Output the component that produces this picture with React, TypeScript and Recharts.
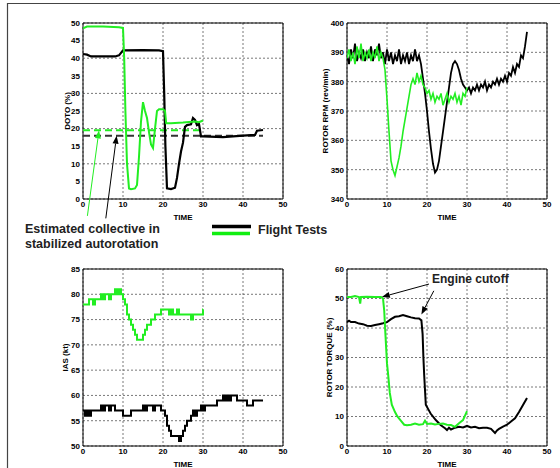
import React from "react"
import {
  LineChart,
  Line,
  XAxis,
  YAxis,
  CartesianGrid,
  ReferenceArea,
  ReferenceLine
} from "recharts"

// Axis ticks
const timeTicks = [0, 10, 20, 30, 40, 50]
const dotoTicks = [0, 5, 10, 15, 20, 25, 30, 35, 40, 45, 50]
const rpmTicks = [340, 350, 360, 370, 380, 390, 400]
const iasTicks = [50, 55, 60, 65, 70, 75, 80, 85]
const torqueTicks = [0, 10, 20, 30, 40, 50, 60]

// DOTO (%) — [time, value]
const dotoGreen = [
  [0, 48.5], [1, 49], [5, 49], [9, 48.8], [10, 48.6], [10.3, 40], [10.6, 25], [11, 10],
  [11.5, 3], [12, 2.8], [13, 3], [13.5, 4], [14, 12], [14.5, 22], [15, 27.5], [15.5, 25],
  [16, 23], [16.5, 19], [17, 15.5], [17.5, 14.5], [18, 20], [18.5, 25], [19, 25.5], [20, 25.5],
  [20.5, 25], [20.8, 21.5], [22, 21.5], [25, 21.7], [28, 22], [29, 21.8], [30, 22.3]
]
const dotoBlack = [
  [0, 41.2], [1, 41], [2, 40.5], [8, 40.5], [9, 40.8], [9.5, 41.5], [10, 42.2], [15, 42.3],
  [19, 42.2], [20, 42], [20.3, 30], [20.6, 15], [21, 3], [22, 2.8], [23, 3.2], [23.5, 6],
  [24, 10], [24.5, 13.5], [25, 16], [25.5, 20.5], [26, 21], [27, 21.2], [27.5, 23], [28, 22.5],
  [28.5, 21], [29, 21.3], [29.5, 17.8], [30, 17.8], [35, 17.6], [40, 18], [43, 18.2],
  [43.5, 19.4], [45, 19.6]
]
const collectiveGreen = [[0, 19.5], [30, 19.5]]
const collectiveBlack = [[0, 18], [45, 18]]

// ROTOR RPM — [time, value]
const rpmGreen = [
  [0, 388], [0.5, 391], [1, 387], [1.5, 390], [2, 386], [2.5, 392], [3, 388], [3.5, 393],
  [4, 387], [4.5, 390], [5, 388], [5.5, 391], [6, 387], [6.5, 390], [7, 388], [7.5, 392],
  [8, 387], [8.5, 390], [9, 388], [9.5, 384], [10, 374], [10.5, 363], [11, 353], [11.5, 350],
  [12, 348], [12.5, 351], [13, 354], [13.5, 358], [14, 363], [14.5, 367], [15, 371], [15.5, 375],
  [16, 379], [16.5, 381], [17, 379], [17.5, 383], [18, 380], [18.5, 382], [19, 379], [19.5, 378],
  [20, 376], [20.5, 377], [21, 374], [21.5, 376], [22, 373], [22.5, 375], [23, 374], [23.5, 376],
  [24, 372], [24.5, 374], [25, 376], [25.5, 373], [26, 375], [26.5, 374], [27, 376], [27.5, 373],
  [28, 375], [28.5, 372], [29, 376], [29.5, 375], [30, 378]
]
const rpmBlack = [
  [0, 389], [0.5, 386], [1, 391], [1.5, 388], [2, 393], [2.5, 387], [3, 390], [3.5, 388],
  [4, 391], [4.5, 387], [5, 390], [5.5, 388], [6, 392], [6.5, 387], [7, 391], [7.5, 389],
  [8, 393], [8.5, 388], [9, 390], [9.5, 386], [10, 391], [10.5, 387], [11, 390], [11.5, 386],
  [12, 389], [12.5, 387], [13, 391], [13.5, 386], [14, 389], [14.5, 387], [15, 390], [15.5, 386],
  [16, 389], [16.5, 387], [17, 391], [17.5, 387], [18, 389], [18.5, 386], [19, 381], [19.5, 376],
  [20, 370], [20.5, 363], [21, 357], [21.5, 352], [22, 349], [22.5, 350], [23, 353], [23.5, 358],
  [24, 363], [24.5, 368], [25, 373], [25.5, 378], [26, 383], [26.5, 386], [27, 387], [27.5, 386],
  [28, 384], [28.5, 381], [29, 379], [29.5, 378], [30, 377], [30.5, 378], [31, 376], [31.5, 378],
  [32, 377], [32.5, 379], [33, 377], [33.5, 379], [34, 378], [34.5, 380], [35, 377], [35.5, 379],
  [36, 378], [36.5, 380], [37, 379], [37.5, 381], [38, 379], [38.5, 381], [39, 380], [39.5, 382],
  [40, 380], [40.5, 383], [41, 382], [41.5, 385], [42, 383], [42.5, 386], [43, 385], [43.5, 389],
  [44, 388], [44.5, 392], [45, 397]
]

// IAS (kt) — [time, value]
const iasGreen = [
  [0, 78], [1.5, 79], [2.5, 78], [3, 79], [4.5, 80], [5, 79], [5.5, 80], [6.5, 79], [7, 80],
  [8, 81], [8.5, 80], [9, 81], [9.5, 80], [10, 79], [10.5, 78], [11, 76], [11.5, 75], [12, 74],
  [12.5, 73], [13, 72], [13.5, 71], [15, 72], [15.5, 73], [16, 74], [17, 75], [18, 76],
  [19.5, 77], [21.5, 76], [22, 77], [22.5, 76], [23.5, 77], [24, 76], [27, 75], [27.5, 76],
  [30, 77], [30.01, 77]
]
const iasBlack = [
  [0, 57], [0.5, 56], [1, 57], [1.5, 56], [2, 57], [4.5, 58], [5, 57], [5.5, 58], [6.5, 57],
  [7, 58], [8, 57], [10, 56], [12, 57], [15, 58], [15.5, 57], [16, 58], [17.5, 57], [18, 58],
  [19.5, 57], [20.5, 56], [21, 54], [21.5, 53], [22, 52], [24, 51], [24.5, 52], [25, 53],
  [25.5, 54], [26, 55], [27, 56], [27.5, 57], [28, 56], [28.5, 57], [29.5, 58], [30, 57],
  [30.5, 58], [33.5, 59], [35, 60], [35.5, 59], [36, 60], [36.5, 59], [37, 60], [38.5, 59],
  [41, 58], [42.5, 59], [45, 59]
]

// ROTOR TORQUE (%) — [time, value]
const torqueGreen = [
  [0, 50.5], [1, 50.5], [2, 50.8], [3, 50.5], [3.3, 48.3], [3.5, 50.5], [5, 50.6], [7, 50.5],
  [8.5, 50.5], [9, 50], [9.3, 46], [9.6, 38], [10, 28], [10.3, 24], [10.7, 18], [11.2, 14],
  [12, 11.5], [12.6, 10], [13.5, 8.5], [14.3, 7.2], [15, 7], [16, 7.2], [17, 7.6], [18, 7.2],
  [19, 7.4], [19.5, 8.6], [20, 7.5], [21, 7.6], [22, 7.3], [23, 7.5], [24, 7.6], [25, 7.2],
  [26, 7.1], [27, 6.5], [28, 7.7], [29, 8.8], [30, 11.8]
]
const torqueBlack = [
  [0, 42], [0.5, 42.5], [1, 42], [2, 42], [3, 41.5], [4, 41.3], [5, 40.8], [6, 40.7], [7, 41],
  [8, 41.3], [9, 41.6], [10, 42], [11, 43], [12, 43.8], [13, 44], [14, 44.4], [15, 44],
  [16, 43.6], [17, 43.3], [18, 43.2], [18.6, 42.6], [18.9, 38], [19.1, 30], [19.3, 24],
  [19.7, 14], [20.3, 12.5], [20.9, 11], [22.2, 8.8], [23.4, 7.1], [24.5, 6], [25, 5.4],
  [25.5, 6.2], [26, 5.6], [27, 6.2], [28, 6.5], [29, 6.3], [30, 6.8], [31, 6.3], [32, 6.5],
  [33, 6], [34, 6.2], [35, 6.2], [36, 5.8], [37, 4.4], [37.5, 5.3], [38, 5.8], [39, 6.6],
  [40, 7.2], [41, 8.3], [42, 9.4], [43, 11.5], [44, 13.9], [45, 16.3]
]

// Annotation arrows, [from, to] in data units
const collectiveArrows = [
  { from: [1.1, -4.8], to: [4, 19.5], color: "#22ee22" },
  { from: [5.7, -5.5], to: [8.4, 18], color: "#000" }
]
const cutoffArrows = [
  { from: [20.5, 54.9], to: [8.7, 50.5], color: "#000" },
  { from: [21.7, 52.6], to: [18.6, 44.6], color: "#000" }
]

const GREEN = "#22ee22"
const BLACK = "#000"

const toPoints = (arr: number[][]) => arr.map(([t, v]) => ({ t, v }))

const arrowShape = (color: string) => (props: any) => {
  const { x1, y1, x2, y2 } = props
  const ang = Math.atan2(y2 - y1, x2 - x1)
  const len = 8
  const half = 3
  const bx = x2 - len * Math.cos(ang)
  const by = y2 - len * Math.sin(ang)
  const p1 = `${bx + half * Math.sin(ang)},${by - half * Math.cos(ang)}`
  const p2 = `${bx - half * Math.sin(ang)},${by + half * Math.cos(ang)}`
  return (
    <g>
      <line x1={x1} y1={y1} x2={bx} y2={by} stroke={color} strokeWidth={1} />
      <polygon points={`${x2},${y2} ${p1} ${p2}`} fill={color} />
    </g>
  )
}

interface Series {
  data: number[][]
  color: string
  width?: number
  dash?: string
  step?: boolean
}

interface PanelProps {
  plotLeft: number
  plotTop: number
  plotH: number
  axisW: number
  yDomain: [number, number]
  yTicks: number[]
  yLabel: string
  series: Series[]
  arrows?: { from: number[]; to: number[]; color: string }[]
}

const PLOT_W = 200
const M_LEFT = 10
const M_RIGHT = 10
const M_TOP = 10
const X_AXIS_H = 36

const tickStyle = { fontSize: 8, fontWeight: "bold", fill: "#000" }

const Panel = ({ plotLeft, plotTop, plotH, axisW, yDomain, yTicks, yLabel, series, arrows = [] }: PanelProps) => {
  const left = plotLeft - axisW - M_LEFT
  const top = plotTop - M_TOP
  const width = M_LEFT + axisW + PLOT_W + M_RIGHT
  const height = M_TOP + plotH + X_AXIS_H
  return (
    <div style={{ position: "absolute", left, top }}>
      <LineChart
        width={width}
        height={height}
        margin={{ top: M_TOP, right: M_RIGHT, left: M_LEFT, bottom: 0 }}
      >
        <CartesianGrid stroke="#555" strokeDasharray="2 2" strokeWidth={0.8} />
        <XAxis
          type="number"
          dataKey="t"
          domain={[0, 50]}
          ticks={timeTicks}
          allowDataOverflow
          height={X_AXIS_H}
          tickLine={false}
          axisLine={false}
          tickSize={0}
          tickMargin={2}
          tick={tickStyle}
          label={{ value: "TIME", position: "center", fontSize: 8, fontWeight: "bold", fill: "#000" }}
        />
        <YAxis
          type="number"
          domain={yDomain}
          ticks={yTicks}
          allowDataOverflow
          width={axisW}
          tickLine={false}
          axisLine={false}
          tickSize={0}
          tickMargin={3}
          tick={tickStyle}
          label={{ value: yLabel, angle: -90, position: "center", fontSize: 8, fontWeight: "bold", fill: "#000" }}
        />
        <ReferenceArea
          x1={0}
          x2={50}
          y1={yDomain[0]}
          y2={yDomain[1]}
          fill="none"
          stroke="#000"
          strokeWidth={1}
          ifOverflow="visible"
        />
        {series.map((s, i) => (
          <Line
            key={i}
            data={toPoints(s.data)}
            dataKey="v"
            type={s.step ? "stepAfter" : "linear"}
            stroke={s.color}
            strokeWidth={s.width ?? 2}
            strokeDasharray={s.dash}
            dot={false}
            isAnimationActive={false}
          />
        ))}
        {arrows.map((a, i) => (
          <ReferenceLine
            key={`a${i}`}
            segment={[{ x: a.from[0], y: a.from[1] }, { x: a.to[0], y: a.to[1] }]}
            ifOverflow="visible"
            shape={arrowShape(a.color)}
          />
        ))}
      </LineChart>
    </div>
  )
}

export default function App() {
  return (
    <div
      style={{
        position: "absolute",
        left: 0,
        top: 0,
        width: 560,
        height: 468,
        background: "#fff",
        overflow: "hidden",
        fontFamily: "'Liberation Sans', Arial, sans-serif"
      }}
    >
      <Panel
        plotLeft={83}
        plotTop={23}
        plotH={176}
        axisW={32}
        yDomain={[0, 50]}
        yTicks={dotoTicks}
        yLabel="DOTO (%)"
        series={[
          { data: collectiveGreen, color: GREEN, width: 2, dash: "7 4" },
          { data: collectiveBlack, color: "#333", width: 2, dash: "7 4" },
          { data: dotoBlack, color: BLACK, width: 2.2 },
          { data: dotoGreen, color: GREEN, width: 2 }
        ]}
        arrows={collectiveArrows}
      />
      <Panel
        plotLeft={347}
        plotTop={23}
        plotH={176}
        axisW={44}
        yDomain={[340, 400]}
        yTicks={rpmTicks}
        yLabel="ROTOR RPM (rev/min)"
        series={[
          { data: rpmBlack, color: BLACK, width: 1.8 },
          { data: rpmGreen, color: GREEN, width: 1.6 }
        ]}
      />
      <Panel
        plotLeft={83}
        plotTop={269}
        plotH={177}
        axisW={36}
        yDomain={[50, 85]}
        yTicks={iasTicks}
        yLabel="IAS (kt)"
        series={[
          { data: iasGreen, color: GREEN, width: 2, step: true },
          { data: iasBlack, color: BLACK, width: 2, step: true }
        ]}
      />
      <Panel
        plotLeft={347}
        plotTop={269}
        plotH={177}
        axisW={36}
        yDomain={[0, 60]}
        yTicks={torqueTicks}
        yLabel="ROTOR TORQUE (%)"
        series={[
          { data: torqueBlack, color: BLACK, width: 2 },
          { data: torqueGreen, color: GREEN, width: 2 }
        ]}
        arrows={cutoffArrows}
      />
      <svg
        width={560}
        height={468}
        style={{ position: "absolute", left: 0, top: 0, pointerEvents: "none" }}
      >
        <line x1={7} y1={3.5} x2={560} y2={3.5} stroke="#444" strokeWidth={1.2} />
        <line x1={7.5} y1={3} x2={7.5} y2={468} stroke="#444" strokeWidth={1.2} />
        <text x={25} y={233} fontSize={12.5} fontWeight="bold" fill="#222">
          Estimated collective in
        </text>
        <text x={25} y={248} fontSize={12.5} fontWeight="bold" fill="#222">
          stabilized autorotation
        </text>
        <line x1={212} y1={226.5} x2={251} y2={226.5} stroke="#000" strokeWidth={3.5} />
        <line x1={212} y1={233.5} x2={250} y2={233.5} stroke="#11ee11" strokeWidth={3.5} />
        <text x={258} y={234} fontSize={12.5} fontWeight="bold" fill="#222">
          Flight Tests
        </text>
        <text x={432} y={283} fontSize={12} fontWeight="bold" fill="#222">
          Engine cutoff
        </text>
      </svg>
    </div>
  )
}
